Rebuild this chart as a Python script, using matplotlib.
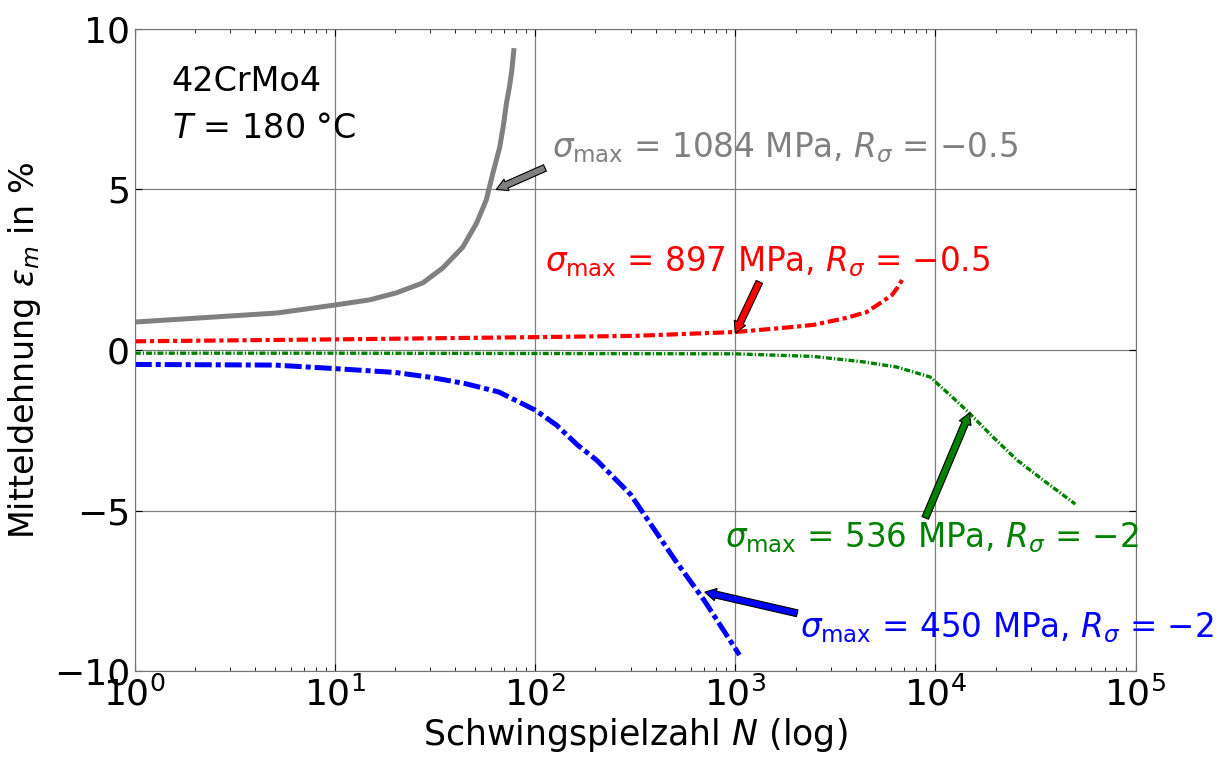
import numpy as np
import matplotlib
matplotlib.use("Agg")
import matplotlib.pyplot as plt

# Mitteldehnung ueber Schwingspielzahl, 42CrMo4 bei 180 °C
N_grau = [1, 5.1, 10, 14.9, 20.3, 27.5, 34.5, 43.5, 51, 57, 61.5, 66.5, 69.5, 72, 74.5, 76.5, 78.5]
eps_grau = [0.87, 1.15, 1.40, 1.56, 1.78, 2.09, 2.55, 3.2, 3.95, 4.67, 5.5, 6.3, 7.0, 7.7, 8.2, 8.7, 9.4]

N_rot = [1, 10, 100, 316, 1000, 1680, 2450, 3600, 4530, 5300, 6060, 6500, 6900]
eps_rot = [0.27, 0.33, 0.40, 0.44, 0.56, 0.68, 0.78, 1.0, 1.18, 1.46, 1.71, 1.96, 2.24]

N_gruen = [1, 10, 100, 1000, 2450, 4360, 6400, 9400, 12100, 14800, 19300, 25600, 34500, 50000]
eps_gruen = [-0.1, -0.1, -0.11, -0.12, -0.2, -0.37, -0.53, -0.84, -1.46, -1.97, -2.7, -3.43, -4.05, -4.8]

N_blau = [1, 5, 10, 20, 30, 45, 66, 100, 128, 163, 203, 300, 500, 700, 1050]
eps_blau = [-0.45, -0.47, -0.58, -0.7, -0.85, -1.05, -1.31, -1.87, -2.34, -2.96, -3.43, -4.5, -6.54, -7.8, -9.5]

plt.rcParams['font.family'] = 'DejaVu Sans'
plt.rcParams['mathtext.fontset'] = 'dejavusans'

fig = plt.figure(figsize=(12.25, 7.6), dpi=100)
ax = fig.add_axes([0.110, 0.117, 0.817, 0.845])

ax.plot(N_grau, eps_grau, color='gray', lw=3.6, solid_capstyle='butt')
ax.plot(N_rot, eps_rot, color='red', lw=3.0, linestyle=(0, (2.75, 0.9, 1.0, 0.9)))
ax.plot(N_gruen, eps_gruen, color='green', lw=2.4, linestyle=(0, (1.8, 0.6, 0.4, 0.6)))
ax.plot(N_blau, eps_blau, color='blue', lw=3.6, linestyle=(0, (3.4, 0.8, 1.0, 0.8)))

ax.set_xscale('log')
ax.set_xlim(1, 1e5)
ax.set_ylim(-10, 10)
ax.set_yticks([-10, -5, 0, 5, 10])
ax.grid(True, which='major', color='gray', lw=0.9)
ax.tick_params(which='both', direction='in', top=True, right=True, labelsize=26)
ax.tick_params(which='major', length=5)
ax.tick_params(which='minor', length=3)
for s in ax.spines.values():
    s.set_color('0.45')

ax.set_xlabel(r'Schwingspielzahl $N$ (log)', fontsize=25, labelpad=3)
ax.set_ylabel(r'Mitteldehnung $\varepsilon_m$ in %', fontsize=24, labelpad=8)

ax.text(1.53, 8.35, '42CrMo4', fontsize=24, va='center')
ax.text(1.53, 6.9, r'$T$ = 180 °C', fontsize=24, va='center')

# Texte und Pfeile getrennt, damit die Pfeilenden sitzen
texte = [
    (r'$\sigma_{\rm max}$ = 1084 MPa, $R_\sigma$ = $-$0.5', (122, 6.3), 'gray'),
    (r'$\sigma_{\rm max}$ = 897 MPa, $R_\sigma$ = $-$0.5', (112, 2.74), 'red'),
    (r'$\sigma_{\rm max}$ = 536 MPa, $R_\sigma$ = $-$2', (890, -5.83), 'green'),
    (r'$\sigma_{\rm max}$ = 450 MPa, $R_\sigma$ = $-$2', (2100, -8.66), 'blue'),
]
pfeile = [
    ((112, 5.67), (64, 5.0), 'gray'),
    ((1320, 2.12), (1000, 0.53), 'red'),
    ((8900, -5.23), (14800, -1.96), 'green'),
    ((2040, -8.2), (705, -7.54), 'blue'),
]
for txt, pos, c in texte:
    ax.text(pos[0], pos[1], txt, color=c, fontsize=23.5, va='center')
for start, ziel, c in pfeile:
    ax.annotate('', xy=ziel, xytext=start,
                arrowprops=dict(facecolor=c, edgecolor='black', lw=0.8, width=5,
                                headwidth=9, headlength=8, shrink=0))

fig.savefig('out.png', dpi=100)
